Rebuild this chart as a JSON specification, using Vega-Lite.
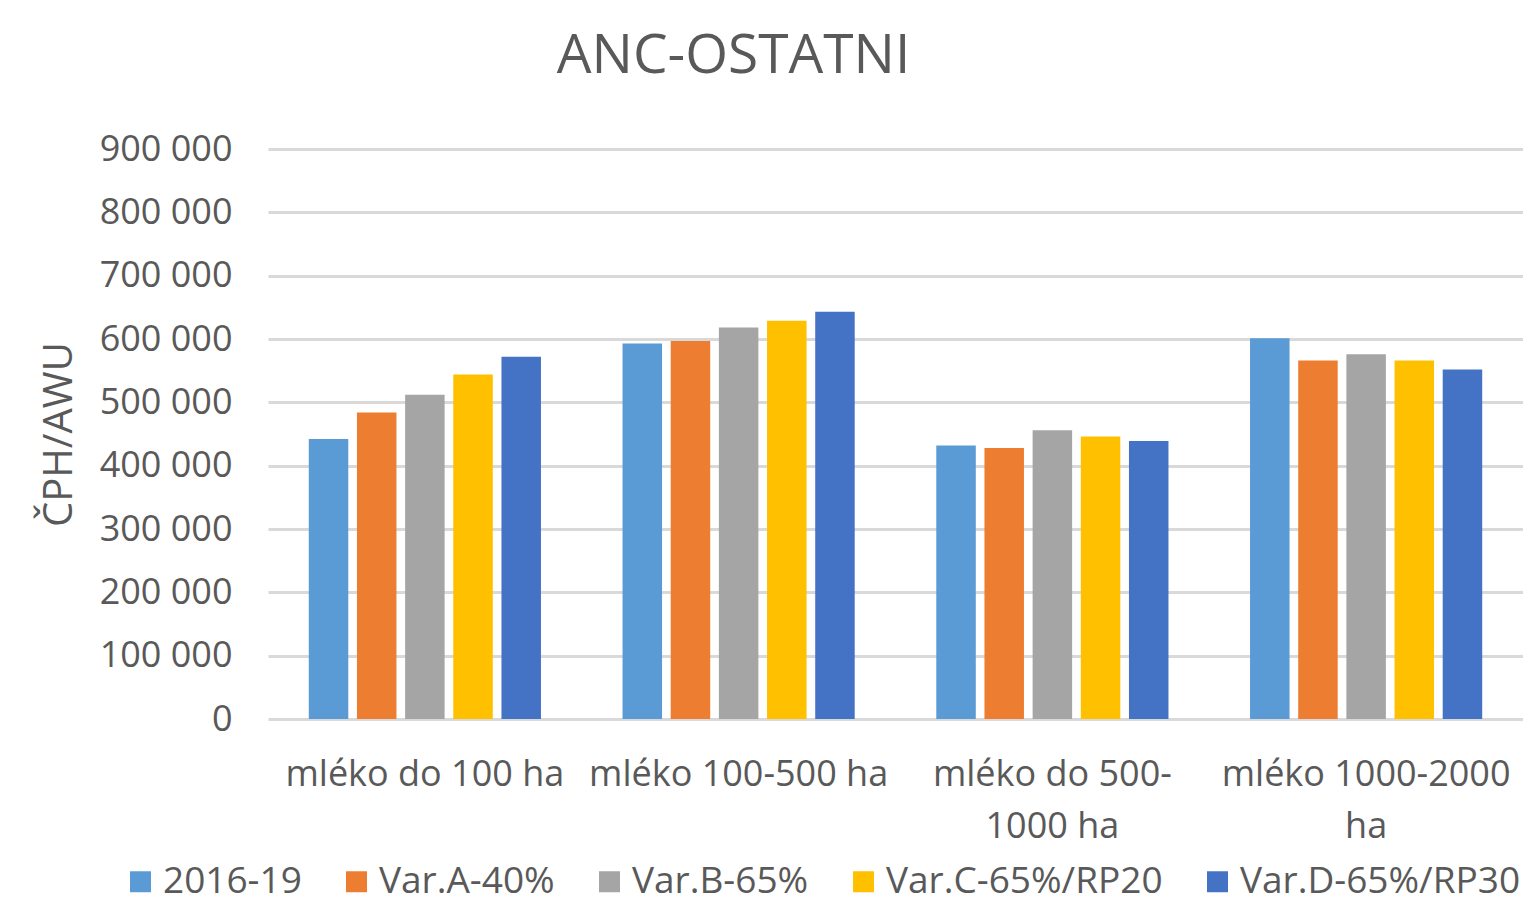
{
  "$schema": "https://vega.github.io/schema/vega-lite/v6.json",
  "autosize": {"type": "none"},
  "width": 1255,
  "height": 570,
  "padding": {"left": 268, "top": 149, "right": 0, "bottom": 183},
  "background": "white",
  "title": {
    "text": "ANC-OSTATNI",
    "font": "Open Sans",
    "fontSize": 55,
    "fontWeight": "normal",
    "color": "#595959",
    "anchor": "middle",
    "frame": "group",
    "dx": -162,
    "offset": 46
  },
  "data": {
    "values": [
      {"group": "mléko do 100 ha", "series": "2016-19", "value": 442000},
      {"group": "mléko do 100 ha", "series": "Var.A-40%", "value": 484000},
      {"group": "mléko do 100 ha", "series": "Var.B-65%", "value": 512000},
      {"group": "mléko do 100 ha", "series": "Var.C-65%/RP20", "value": 544000},
      {"group": "mléko do 100 ha", "series": "Var.D-65%/RP30", "value": 572000},
      {"group": "mléko 100-500 ha", "series": "2016-19", "value": 593000},
      {"group": "mléko 100-500 ha", "series": "Var.A-40%", "value": 597000},
      {"group": "mléko 100-500 ha", "series": "Var.B-65%", "value": 618000},
      {"group": "mléko 100-500 ha", "series": "Var.C-65%/RP20", "value": 629000},
      {"group": "mléko 100-500 ha", "series": "Var.D-65%/RP30", "value": 643000},
      {"group": "mléko do 500-1000 ha", "series": "2016-19", "value": 432000},
      {"group": "mléko do 500-1000 ha", "series": "Var.A-40%", "value": 428000},
      {"group": "mléko do 500-1000 ha", "series": "Var.B-65%", "value": 456000},
      {"group": "mléko do 500-1000 ha", "series": "Var.C-65%/RP20", "value": 446000},
      {"group": "mléko do 500-1000 ha", "series": "Var.D-65%/RP30", "value": 439000},
      {"group": "mléko 1000-2000 ha", "series": "2016-19", "value": 601000},
      {"group": "mléko 1000-2000 ha", "series": "Var.A-40%", "value": 566000},
      {"group": "mléko 1000-2000 ha", "series": "Var.B-65%", "value": 576000},
      {"group": "mléko 1000-2000 ha", "series": "Var.C-65%/RP20", "value": 566000},
      {"group": "mléko 1000-2000 ha", "series": "Var.D-65%/RP30", "value": 552000}
    ]
  },
  "mark": {"type": "bar"},
  "encoding": {
    "x": {
      "field": "group",
      "type": "nominal",
      "sort": null,
      "scale": {"paddingInner": 0.26, "paddingOuter": 0.13},
      "axis": {
        "title": null,
        "domain": false,
        "ticks": false,
        "labelAngle": 0,
        "labelFont": "Open Sans",
        "labelFontSize": 36,
        "labelColor": "#595959",
        "labelPadding": 38,
        "labelLineHeight": 52,
        "labelLimit": 400,
        "labelExpr": "datum.label == 'mléko do 500-1000 ha' ? ['mléko do 500-', '1000 ha'] : datum.label == 'mléko 1000-2000 ha' ? ['mléko 1000-2000', 'ha'] : datum.label"
      }
    },
    "xOffset": {
      "field": "series",
      "type": "nominal",
      "sort": null,
      "scale": {"paddingInner": 0.18, "paddingOuter": 0}
    },
    "y": {
      "field": "value",
      "type": "quantitative",
      "scale": {"domain": [0, 900000], "nice": false},
      "axis": {
        "title": "ČPH/AWU",
        "titleFont": "Open Sans",
        "titleFontSize": 40,
        "titleFontWeight": "normal",
        "titleColor": "#595959",
        "titlePadding": 20,
        "values": [0, 100000, 200000, 300000, 400000, 500000, 600000, 700000, 800000, 900000],
        "labelExpr": "replace(format(datum.value, ','), ',', ' ')",
        "labelFont": "Open Sans",
        "labelFontSize": 36,
        "labelColor": "#595959",
        "labelPadding": 36,
        "domain": false,
        "ticks": false,
        "grid": true,
        "gridColor": "#d9d9d9",
        "gridWidth": 3
      }
    },
    "color": {
      "field": "series",
      "type": "nominal",
      "sort": null,
      "scale": {
        "domain": ["2016-19", "Var.A-40%", "Var.B-65%", "Var.C-65%/RP20", "Var.D-65%/RP30"],
        "range": ["#5B9BD5", "#ED7D31", "#A5A5A5", "#FFC000", "#4472C4"]
      },
      "legend": {
        "title": null,
        "orient": "none",
        "direction": "horizontal",
        "columns": 5,
        "legendX": -146,
        "legendY": 714,
        "padding": 0,
        "symbolType": "square",
        "symbolSize": 440,
        "symbolStrokeWidth": 0,
        "labelFont": "Open Sans",
        "labelFontSize": 37,
        "labelColor": "#595959",
        "labelOffset": 4,
        "labelLimit": 400,
        "columnPadding": 36
      }
    }
  },
  "config": {
    "view": {"stroke": null}
  }
}
